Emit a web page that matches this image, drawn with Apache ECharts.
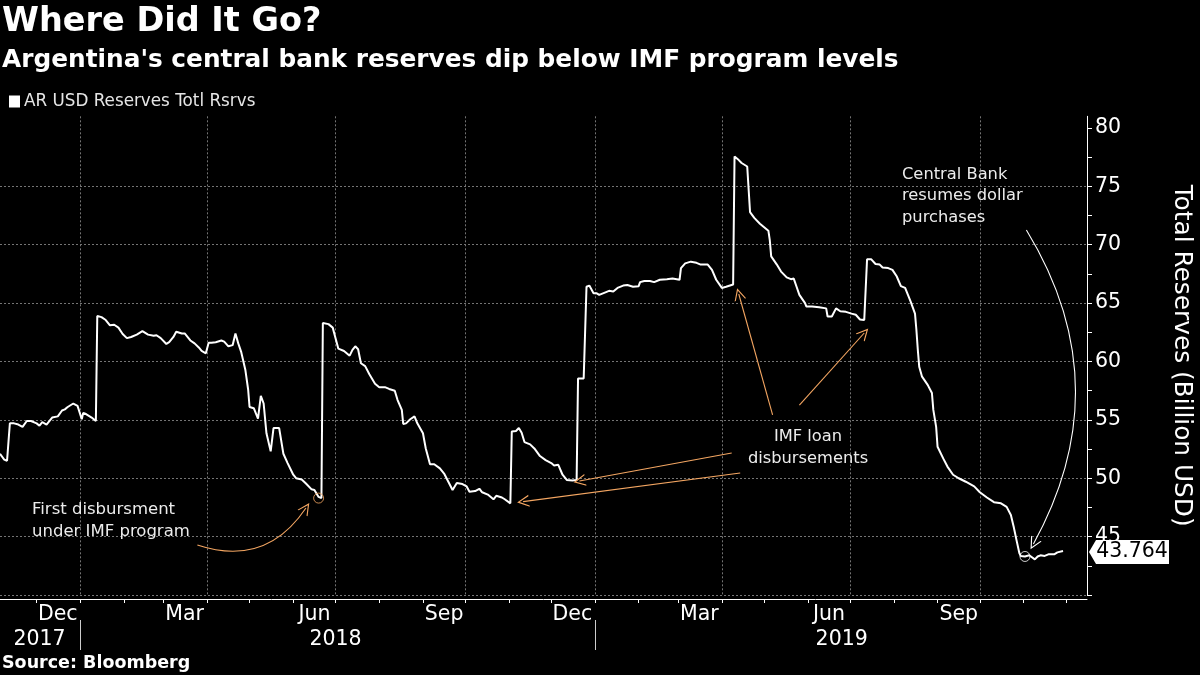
<!DOCTYPE html>
<html><head><meta charset="utf-8">
<script src="https://cdn.jsdelivr.net/npm/echarts@6/dist/echarts.min.js"></script>
<style>html,body{margin:0;padding:0;background:#000}#c{width:1200px;height:675px}</style>
</head><body><div id="c"></div>
<script>
// ---------------- data ----------------
const seriesName = 'AR USD Reserves Totl Rsrvs';
const dates = [
'2017-11-05','2017-11-06','2017-11-08','2017-11-10','2017-11-12','2017-11-15','2017-11-18','2017-11-21','2017-11-24','2017-11-27',
'2017-12-01','2017-12-03','2017-12-05','2017-12-08','2017-12-10','2017-12-12','2017-12-16','2017-12-19','2017-12-21','2017-12-23',
'2017-12-27','2017-12-30','2018-01-02','2018-01-03','2018-01-05','2018-01-09','2018-01-12','2018-01-13','2018-01-16','2018-01-19',
'2018-01-22','2018-01-25','2018-01-28','2018-01-31','2018-02-03','2018-02-06','2018-02-10','2018-02-14','2018-02-18','2018-02-22',
'2018-02-24','2018-02-27','2018-03-03','2018-03-05','2018-03-08','2018-03-10','2018-03-14','2018-03-16','2018-03-20','2018-03-23',
'2018-03-26','2018-03-28','2018-03-31','2018-04-02','2018-04-04','2018-04-07','2018-04-11','2018-04-13','2018-04-16','2018-04-19',
'2018-04-21','2018-04-23','2018-04-25','2018-04-28','2018-04-30','2018-05-01','2018-05-04','2018-05-07','2018-05-09','2018-05-11',
'2018-05-13','2018-05-16','2018-05-18','2018-05-22','2018-05-25','2018-05-28','2018-06-01','2018-06-03','2018-06-07','2018-06-10',
'2018-06-14','2018-06-16','2018-06-19','2018-06-21','2018-06-22','2018-06-26','2018-06-29','2018-07-01','2018-07-03','2018-07-07',
'2018-07-11','2018-07-13','2018-07-15','2018-07-17','2018-07-19','2018-07-22','2018-07-25','2018-07-29','2018-08-01','2018-08-05',
'2018-08-08','2018-08-12','2018-08-14','2018-08-17','2018-08-18','2018-08-20','2018-08-23','2018-08-26','2018-08-28','2018-09-01',
'2018-09-03','2018-09-06','2018-09-09','2018-09-13','2018-09-16','2018-09-19','2018-09-22','2018-09-25','2018-09-29','2018-10-02',
'2018-10-04','2018-10-08','2018-10-11','2018-10-13','2018-10-17','2018-10-21','2018-10-23','2018-10-27','2018-10-29','2018-11-02',
'2018-11-03','2018-11-06','2018-11-08','2018-11-10','2018-11-12','2018-11-16','2018-11-19','2018-11-23','2018-11-27','2018-12-01',
'2018-12-03','2018-12-06','2018-12-09','2018-12-12','2018-12-16','2018-12-19','2018-12-20','2018-12-24','2018-12-26','2018-12-28',
'2018-12-31','2019-01-02','2019-01-04','2019-01-08','2019-01-11','2019-01-14','2019-01-17','2019-01-21','2019-01-24','2019-01-28',
'2019-02-01','2019-02-02','2019-02-05','2019-02-09','2019-02-12','2019-02-16','2019-02-21','2019-02-25','2019-03-02','2019-03-03',
'2019-03-06','2019-03-10','2019-03-14','2019-03-17','2019-03-22','2019-03-25','2019-03-28','2019-04-01','2019-04-04','2019-04-09',
'2019-04-10','2019-04-13','2019-04-15','2019-04-19','2019-04-21','2019-04-24','2019-04-28','2019-05-01','2019-05-04','2019-05-05',
'2019-05-06','2019-05-10','2019-05-13','2019-05-17','2019-05-20','2019-05-22','2019-05-24','2019-05-26','2019-05-30','2019-05-31',
'2019-06-04','2019-06-09','2019-06-14','2019-06-15','2019-06-18','2019-06-21','2019-06-24','2019-06-28','2019-07-02','2019-07-05',
'2019-07-08','2019-07-11','2019-07-12','2019-07-13','2019-07-16','2019-07-19','2019-07-22','2019-07-24','2019-07-28','2019-07-31',
'2019-08-03','2019-08-06','2019-08-09','2019-08-11','2019-08-13','2019-08-16','2019-08-17','2019-08-18','2019-08-19','2019-08-21',
'2019-08-25','2019-08-28','2019-08-29','2019-08-31','2019-09-01','2019-09-05','2019-09-08','2019-09-12','2019-09-16','2019-09-21',
'2019-09-27','2019-10-01','2019-10-06','2019-10-11','2019-10-16','2019-10-20','2019-10-23','2019-10-25','2019-10-27','2019-10-29',
'2019-10-30','2019-11-02','2019-11-05','2019-11-06','2019-11-09','2019-11-11','2019-11-13','2019-11-16','2019-11-19','2019-11-23',
'2019-11-25','2019-11-29'
];
const values = [
52.1,52.1,51.6,51.5,54.7,54.7,54.6,54.4,54.9,54.9,
54.7,54.5,54.8,54.6,54.9,55.2,55.3,55.8,55.9,56.1,
56.4,56.2,55.05,55.6,55.5,55.2,54.9,63.9,63.8,63.55,
63.1,63.15,62.9,62.35,62.0,62.1,62.3,62.6,62.3,62.2,
62.25,62.0,61.5,61.65,62.1,62.55,62.4,62.4,61.8,61.55,
61.2,60.9,60.7,61.6,61.6,61.65,61.8,61.7,61.3,61.4,
62.4,61.55,60.85,59.3,57.6,56.1,56.0,55.1,57.05,56.4,
53.85,52.3,54.3,54.3,52.1,51.3,50.3,50.0,49.9,49.55,
49.05,49.0,48.4,48.3,63.3,63.2,62.9,62.0,61.1,60.9,
60.5,61.0,61.3,61.05,59.85,59.6,58.9,58.1,57.8,57.8,
57.65,57.5,56.7,55.85,54.65,54.7,55.05,55.3,54.7,53.85,
52.55,51.2,51.2,50.85,50.4,49.7,49.0,49.6,49.5,49.3,
48.85,48.9,49.1,48.8,48.6,48.2,48.5,48.35,48.2,47.85,
54.0,54.05,54.3,53.9,53.1,52.9,52.55,51.9,51.55,51.3,
51.1,51.15,50.3,49.85,49.8,49.85,58.55,58.55,66.4,66.5,
65.85,65.85,65.7,65.9,66.05,66.0,66.3,66.5,66.55,66.4,
66.45,66.8,66.9,66.9,66.8,67.0,67.05,67.1,67.0,68.0,
68.4,68.55,68.45,68.3,68.3,67.85,67.0,66.3,66.4,66.6,
77.55,77.25,77.0,76.7,72.8,72.3,71.8,71.5,71.2,70.4,
69.0,68.3,67.7,67.2,67.05,67.1,66.4,65.7,65.0,64.7,
64.7,64.65,64.55,63.85,63.85,64.55,64.3,64.25,64.1,64.0,
63.6,63.55,63.6,68.75,68.75,68.35,68.3,68.05,68.0,67.85,
67.3,66.45,66.3,65.7,65.1,64.1,62.7,61.0,59.55,58.7,
58.0,57.3,55.85,54.4,52.7,51.7,51.0,50.3,50.0,49.7,
49.3,48.8,48.35,47.95,47.85,47.55,46.85,45.85,44.7,43.6,
43.35,43.3,43.4,43.4,43.05,43.3,43.4,43.35,43.5,43.5,
43.65,43.764
];
// axis extents and ticks
const xRange = ['2017-11-05', '2019-12-16'];
const yRange = [40, 81];
const monthTicks = ['2017-12-01','2018-01-01','2018-02-01','2018-03-01','2018-04-01','2018-05-01','2018-06-01','2018-07-01',
  '2018-08-01','2018-09-01','2018-10-01','2018-11-01','2018-12-01','2019-01-01','2019-02-01','2019-03-01','2019-04-01',
  '2019-05-01','2019-06-01','2019-07-01','2019-08-01','2019-09-01','2019-10-01','2019-11-01','2019-12-01'];
const monthLabelDates = ['2017-12-16','2018-03-16','2018-06-16','2018-09-16','2018-12-16','2019-03-16','2019-06-16','2019-09-16'];
const monthLabels = ['Dec','Mar','Jun','Sep','Dec','Mar','Jun','Sep'];
const quarterStarts = ['2018-01-01','2018-04-01','2018-07-01','2018-10-01','2019-01-01','2019-04-01','2019-07-01','2019-10-01'];
const yearLabelDates = ['2017-12-03','2018-07-01','2019-06-25'];
const yearLabels = ['2017','2018','2019'];
const yearBreaks = ['2018-01-01','2019-01-01'];
const yTickValues = [40,45,50,55,60,65,70,75,80];
const yLabelValues = [45,50,55,60,65,70,75,80];
const yMinorValues = [42.5,47.5,52.5,57.5,62.5,67.5,72.5,77.5];
// annotation arrows (data coordinates)
const arrowFromDates = ['2018-03-25','2019-04-08','2019-04-14','2019-05-07','2019-05-26','2019-11-03'];
const arrowFromValues = [44.28, 52.16, 50.45, 55.42, 56.27, 71.26];
const arrowToDates = ['2018-06-10','2018-12-21','2018-11-11','2019-04-13','2019-07-11','2019-11-08'];
const arrowToValues = [47.45, 49.76, 48.0, 65.78, 62.44, 44.37];
const arrowCurves = [-0.38, 0, 0, 0, 0, 0.29];
const arrowColors = ['#f4a662','#f4a662','#f4a662','#f4a662','#f4a662','#ffffff'];
const circleDates = ['2018-06-19','2019-11-02'];
const circleValues = [48.3, 43.3];
const circleColors = ['#f4a662','#ffffff'];

// ---------------- helpers ----------------
const T = s => Date.UTC(+s.slice(0,4), +s.slice(5,7) - 1, +s.slice(8,10));
const monthLabelTs = monthLabelDates.map(T);
const yearLabelTs = yearLabelDates.map(T);
const FONT = 'DejaVu Sans';
const WHITE = '#ffffff';
const GRID = '#747474';
const chevron = 'path://M7,0 L14,12 L12.5,12 L7,2.6 L1.5,12 L0,12 Z';
const tag = 'path://M0,12 L7,0 L80,0 L80,24 L7,24 Z';

const lineData = dates.map((d, i) => [T(d), values[i]]);
const last = lineData[lineData.length - 1];

const chart = echarts.init(document.getElementById('c'), null, {renderer: 'canvas'});
const baseX = {
  type: 'value', gridIndex: 0, position: 'bottom',
  min: T(xRange[0]), max: T(xRange[1]),
  axisLine: {show: false}, axisTick: {show: false}, axisLabel: {show: false}, splitLine: {show: false}
};
chart.setOption({
  animation: false,
  backgroundColor: '#000000',
  textStyle: {fontFamily: FONT},
  title: [
    {text: 'Where Did It Go?', left: 2, top: 5, padding: 0,
     textStyle: {color: WHITE, fontFamily: FONT, fontWeight: 'bold', fontSize: 33.5}},
    {text: "Argentina's central bank reserves dip below IMF program levels", left: 2, top: 48, padding: 0,
     textStyle: {color: WHITE, fontFamily: FONT, fontWeight: 'bold', fontSize: 24.8}},
    {text: 'Source: Bloomberg', left: 2, top: 654, padding: 0,
     textStyle: {color: WHITE, fontFamily: FONT, fontWeight: 'bold', fontSize: 17.5}}
  ],
  legend: {
    data: [seriesName], left: 9, top: 93, padding: 0, icon: 'rect', itemWidth: 11, itemHeight: 12, itemGap: 5,
    textStyle: {color: '#e6e6e6', fontFamily: FONT, fontSize: 16.8, padding: [0,0,0,-1]}
  },
  grid: {left: 0, right: 113, top: 116.3, bottom: 80, containLabel: false, outerBoundsMode: 'none'},
  xAxis: [
    Object.assign({}, baseX, {
      offset: 4,
      axisLine: {show: true, lineStyle: {color: WHITE, width: 1}},
      axisTick: {show: true, length: 4, inside: false, customValues: monthTicks.map(T), lineStyle: {color: WHITE}},
      axisLabel: {show: true, customValues: monthLabelTs, margin: 5, color: WHITE, fontSize: 20.5, fontFamily: FONT,
        formatter: v => monthLabels[monthLabelTs.indexOf(v)] || ''}
    }),
    Object.assign({}, baseX, {
      axisTick: {show: false, customValues: quarterStarts.map(T)},
      splitLine: {show: true, lineStyle: {color: GRID, type: [2, 2], width: 1}}
    }),
    Object.assign({}, baseX, {
      offset: 25,
      axisTick: {show: true, length: 30, inside: false, customValues: yearBreaks.map(T), lineStyle: {color: '#cccccc', width: 1}},
      axisLabel: {show: true, customValues: yearLabelTs, margin: 9, color: WHITE, fontSize: 20.5, fontFamily: FONT,
        formatter: v => yearLabels[yearLabelTs.indexOf(v)] || ''}
    })
  ],
  yAxis: [
    {
      type: 'value', position: 'right', min: yRange[0], max: yRange[1],
      name: 'Total Reserves (Billion USD)', nameLocation: 'middle', nameRotate: -90, nameGap: 82,
      nameTextStyle: {color: WHITE, fontSize: 24.8, fontFamily: FONT},
      axisLine: {show: true, lineStyle: {color: WHITE, width: 1}},
      axisTick: {show: true, length: 5, inside: false, customValues: yTickValues, lineStyle: {color: WHITE}},
      axisLabel: {show: true, customValues: yLabelValues, margin: 8, color: WHITE, fontSize: 20.5, fontFamily: FONT},
      splitLine: {show: true, showMaxLine: false, lineStyle: {color: GRID, type: [2, 2], width: 1}}
    },
    {
      type: 'value', position: 'right', min: yRange[0], max: yRange[1],
      axisLine: {show: false},
      axisTick: {show: true, length: 5, inside: false, customValues: yMinorValues, lineStyle: {color: WHITE}},
      axisLabel: {show: false}, splitLine: {show: false}
    }
  ],
  graphic: [
    {type: 'text', x: 32, y: 499, z: 10, style: {text: 'First disbursment\nunder IMF program', fill: '#ececec',
      font: '16.5px "DejaVu Sans"', lineHeight: 22, align: 'left', verticalAlign: 'top'}},
    {type: 'text', x: 808, y: 426, z: 10, style: {text: 'IMF loan\ndisbursements', fill: '#ececec',
      font: '16.3px "DejaVu Sans"', lineHeight: 22, align: 'center', verticalAlign: 'top'}},
    {type: 'text', x: 902, y: 164, z: 10, style: {text: 'Central Bank\nresumes dollar\npurchases', fill: '#ececec',
      font: '16.3px "DejaVu Sans"', lineHeight: 21.5, align: 'left', verticalAlign: 'top'}}
  ],
  series: [
    {
      name: seriesName, type: 'line', xAxisIndex: 0, yAxisIndex: 0, data: lineData,
      showSymbol: false, symbol: 'none', smooth: false, z: 4,
      lineStyle: {color: WHITE, width: 2}, itemStyle: {color: WHITE},
      markPoint: {
        silent: true, animation: false,
        data: [{
          coord: [T(xRange[1]), last[1]], symbol: tag, symbolSize: [80, 24], symbolOffset: [42, 1],
          itemStyle: {color: WHITE},
          label: {show: true, position: 'inside', offset: [3, 0], formatter: last[1].toFixed(3),
            color: '#000', fontSize: 20.5, fontFamily: FONT}
        }]
      }
    },
    {
      type: 'lines', coordinateSystem: 'cartesian2d', xAxisIndex: 0, yAxisIndex: 0, silent: true, z: 5,
      symbol: ['none', chevron], symbolSize: [14, 12],
      data: arrowFromDates.map((d, i) => ({
        coords: [[T(d), arrowFromValues[i]], [T(arrowToDates[i]), arrowToValues[i]]],
        lineStyle: {color: arrowColors[i], width: 1.1, opacity: 1, curveness: arrowCurves[i]}
      }))
    },
    {
      type: 'scatter', xAxisIndex: 0, yAxisIndex: 0, silent: true, z: 6, symbol: 'circle', symbolSize: 10,
      data: circleDates.map((d, i) => ({
        value: [T(d), circleValues[i]],
        itemStyle: {color: 'rgba(0,0,0,0)', borderColor: circleColors[i], borderWidth: 1}
      }))
    }
  ]
});
</script></body></html>
